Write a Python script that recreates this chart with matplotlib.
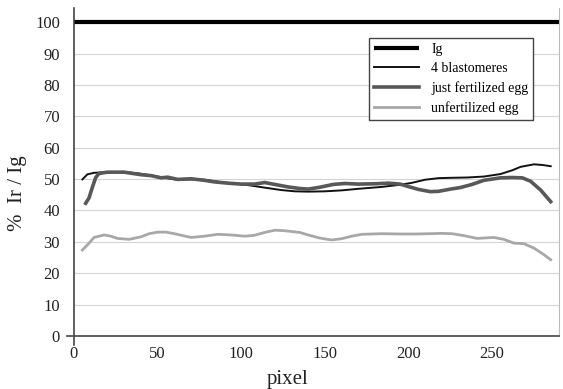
import numpy as np
import matplotlib
matplotlib.use("Agg")
import matplotlib.pyplot as plt

plt.rcParams['font.family'] = ['Liberation Serif', 'DejaVu Serif']

# Ig reference level
ig_x = [0, 290]
ig_y = [100, 100]

# 4 blastomeres
blast_x = [5, 8, 12, 20, 30, 40, 48, 55, 62, 70, 78, 88, 96, 105, 115, 124, 132,
           140, 150, 160, 170, 184, 195, 202, 210, 218, 225, 235, 245, 255, 262,
           267, 275, 280, 285]
blast_y = [49.9, 51.5, 52.0, 52.2, 52.3, 51.7, 51.0, 50.3, 49.8, 49.9, 49.8, 49.0,
           48.6, 48.0, 47.2, 46.5, 46.1, 46.0, 46.1, 46.4, 46.9, 47.5, 48.2, 48.8,
           49.8, 50.3, 50.4, 50.5, 50.8, 51.6, 52.8, 53.9, 54.7, 54.5, 54.1]

# just fertilized egg
fert_x = [7, 9, 11, 13, 15, 20, 30, 40, 46, 52, 56, 62, 70, 78, 84, 92, 100, 108,
          114, 120, 128, 135, 140, 147, 155, 162, 170, 180, 188, 195, 200, 206,
          213, 218, 225, 231, 238, 245, 255, 262, 268, 273, 279, 285]
fert_y = [42.3, 44.0, 47.4, 50.5, 51.8, 52.2, 52.2, 51.4, 51.1, 50.4, 50.6, 49.9,
          50.1, 49.6, 49.1, 48.7, 48.4, 48.4, 48.9, 48.3, 47.5, 47.0, 46.8, 47.4,
          48.3, 48.6, 48.4, 48.5, 48.7, 48.4, 47.6, 46.7, 46.0, 46.1, 46.8, 47.3,
          48.3, 49.6, 50.4, 50.5, 50.4, 49.3, 46.5, 42.8]

# unfertilized egg
unf_x = [5, 8, 12, 18, 22, 26, 33, 40, 45, 50, 55, 60, 65, 70, 78, 86, 94, 102,
         108, 114, 120, 125, 130, 135, 140, 147, 154, 160, 166, 172, 184, 195,
         204, 212, 220, 226, 233, 241, 251, 257, 263, 269, 275, 281, 285]
unf_y = [27.4, 29.0, 31.4, 32.2, 31.8, 31.1, 30.8, 31.6, 32.6, 33.1, 33.1, 32.6,
         32.0, 31.4, 31.8, 32.4, 32.2, 31.8, 32.1, 33.0, 33.7, 33.6, 33.3, 33.0,
         32.2, 31.2, 30.6, 31.0, 31.8, 32.4, 32.6, 32.5, 32.5, 32.6, 32.7, 32.6,
         32.0, 31.1, 31.4, 30.8, 29.6, 29.4, 28.0, 25.9, 24.3]

xticks = [0, 50, 100, 150, 200, 250]
yticks = list(range(0, 101, 10))

fig = plt.figure(figsize=(5.63, 3.89), dpi=100)
ax = fig.add_axes([0.1314, 0.1362, 0.8616, 0.8432])

for y in yticks[1:-1]:
    ax.axhline(y, color='#d4d4d4', lw=0.8, zorder=0)

ax.plot(ig_x, ig_y, color='black', lw=3, label='Ig', solid_capstyle='butt', clip_on=False)
ax.plot(blast_x, blast_y, color='#111111', lw=1.4, label='4 blastomeres')
ax.plot(fert_x, fert_y, color='#585858', lw=2.6, label='just fertilized egg')
ax.plot(unf_x, unf_y, color='#a8a8a8', lw=2.0, label='unfertilized egg')

ax.set_xlim(0, 290)
ax.set_ylim(0, 104.5)
ax.set_xticks(xticks)
ax.set_yticks(yticks)
ax.tick_params(length=0, labelsize=12, colors='#222222')
ax.tick_params(axis='y', pad=10)
ax.tick_params(axis='x', pad=7)

ax.spines['top'].set_visible(False)
ax.spines['right'].set_color('#bbbbbb')
ax.spines['right'].set_linewidth(0.8)
for s in ['left', 'bottom']:
    ax.spines[s].set_color('#444444')
    ax.spines[s].set_linewidth(1.2)
ax.spines['left'].set_bounds(-3, 104.5)
ax.spines['bottom'].set_bounds(-4, 290)

ax.set_xlabel('pixel', fontsize=15, color='#222222')
ax.xaxis.set_label_coords(0.44, -0.104)
ax.set_ylabel('%  Ir / Ig', fontsize=15, color='#222222')
ax.yaxis.set_label_coords(-0.097, 0.436)

leg = ax.legend(loc='upper left', bbox_to_anchor=(0.655, 0.902),
                bbox_transform=fig.transFigure, borderaxespad=0,
                fontsize=10, handlelength=3.3, handletextpad=0.85,
                labelspacing=0.45, borderpad=0.35, fancybox=False,
                framealpha=1, edgecolor='#444444')
leg.get_frame().set_linewidth(1.0)

fig.savefig('out.png', dpi=100)
